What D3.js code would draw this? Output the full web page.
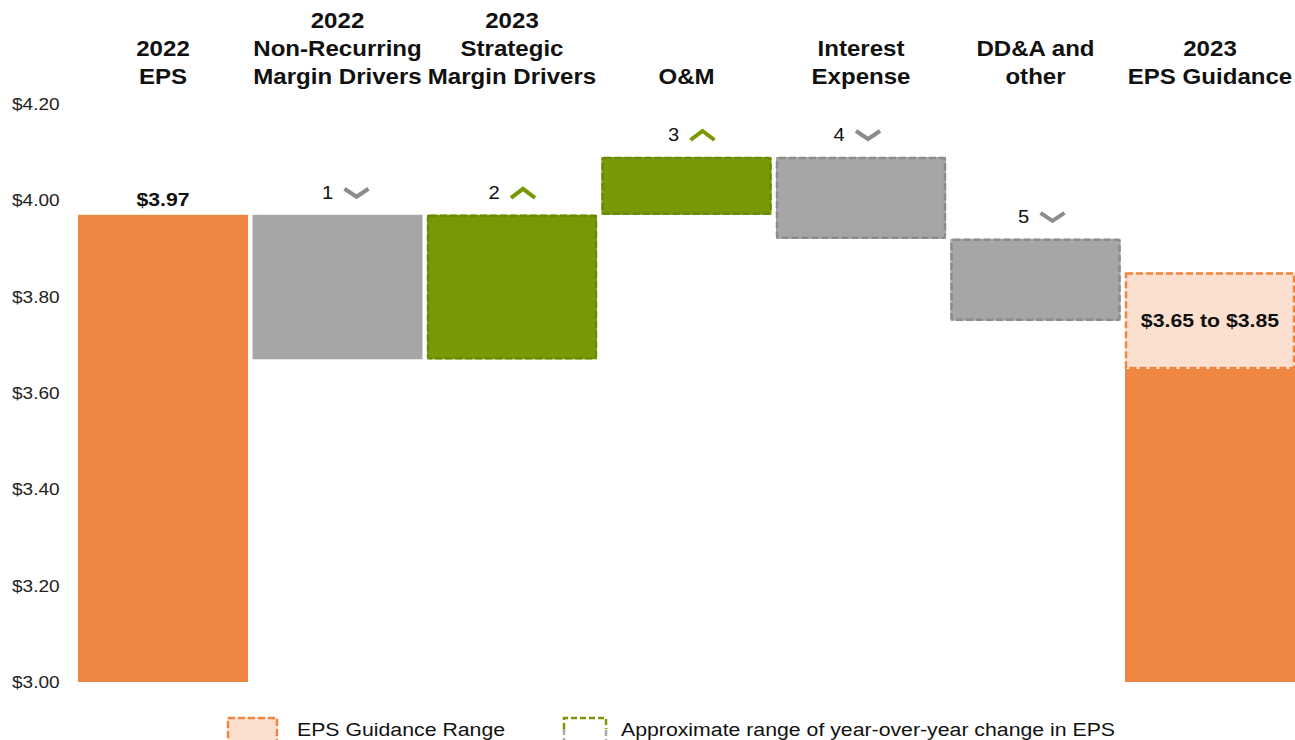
<!DOCTYPE html>
<html><head><meta charset="utf-8">
<script src="https://cdn.jsdelivr.net/npm/d3@7"></script>
<style>body{margin:0;background:#fff;font-family:"Liberation Sans",Arial,sans-serif;}</style>
</head><body><svg id="c" width="1295" height="740"></svg>
<script>
const categories = ["2022 EPS","2022 Non-Recurring Margin Drivers","2023 Strategic Margin Drivers","O&M","Interest Expense","DD&A and other","2023 EPS Guidance"];
const headerLines = [["2022","EPS"],["2022","Non-Recurring","Margin Drivers"],["2023","Strategic","Margin Drivers"],["O&M"],["Interest","Expense"],["DD&A and","other"],["2023","EPS Guidance"]];
const barStart = [3.00, 3.97, 3.67, 3.97, 4.09, 3.92, 3.00];
const barEnd   = [3.97, 3.67, 3.97, 4.09, 3.92, 3.75, 3.65];
const barType  = ["orange","gray","green","green","gray","gray","orange"];
const dashed   = [false,false,true,true,true,true,false];
const annotations = [null,"1","2","3","4","5",null];
const direction = [null,"down","up","up","down","down",null];
const guidanceRange = [3.65, 3.85];
const yTicks = [3.00,3.20,3.40,3.60,3.80,4.00,4.20];
const legendLabels = ["EPS Guidance Range","Approximate range of year-over-year change in EPS"];

// layout constants
const colors = {orange:"#ef8641", gray:"#a6a6a6", green:"#789904", light:"#fbe0cf"};
const borders = {gray:"#8c8c8c", green:"#6a8a00", orange:"#ef8641"};
const SX = 1.12;
const annotShift = [0,0,-8,-3,-12,-2,0];

const svg = d3.select("#c");
const y = d3.scaleLinear().domain([3.0,4.2]).range([682,104]);
const x = d3.scaleBand().domain(categories).range([75.75,1297.25]).paddingInner(4.5/174.5).paddingOuter(4.5/174.5/2);

function txt(px, py, s, fs, opts={}){
  const t = svg.append("text").attr("transform",`translate(${px},${py}) scale(${SX},1)`)
    .attr("font-size",fs).attr("fill",opts.fill||"#111")
    .attr("text-anchor",opts.anchor||"start");
  if(opts.bold) t.attr("font-weight","bold");
  if(opts.dy) t.attr("dy",opts.dy);
  t.text(s);
  return t;
}

// y axis labels
yTicks.forEach(d=>txt(12, y(d), "$"+d.toFixed(2), 17, {dy:"0.35em", fill:"#222"}));

// headers
categories.forEach((c,i)=>{
  const lines = headerLines[i];
  const cx = x(c)+x.bandwidth()/2;
  lines.forEach((l,j)=>txt(cx, 84-(lines.length-1-j)*28, l, 21.5, {anchor:"middle", bold:true}));
});

// bars
categories.forEach((c,i)=>{
  const top = Math.max(barStart[i],barEnd[i]), bot = Math.min(barStart[i],barEnd[i]);
  const bx = x(c), bw = x.bandwidth();
  svg.append("rect").attr("x",bx).attr("y",y(top)).attr("width",bw).attr("height",y(bot)-y(top))
    .attr("fill",colors[barType[i]]);
  if(dashed[i]){
    svg.append("rect").attr("x",bx+1).attr("y",y(top)+1).attr("width",bw-2).attr("height",y(bot)-y(top)-2)
      .attr("fill","none").attr("stroke",borders[barType[i]]).attr("stroke-width",2.5)
      .attr("stroke-dasharray","7,3").attr("rx",2);
  }
  if(annotations[i]){
    const cx = bx+bw/2+annotShift[i], ay = y(top)-22;
    txt(cx-10, ay, annotations[i], 18, {anchor:"middle", dy:"0.35em"});
    const col = direction[i]==="up" ? "#789904" : "#8c8c8c";
    const p = direction[i]==="up"
      ? `M${cx+7},${ay+5} L${cx+19},${ay-4} L${cx+31},${ay+5}`
      : `M${cx+7},${ay-4} L${cx+19},${ay+4} L${cx+31},${ay-4}`;
    svg.append("path").attr("d",p).attr("fill","none").attr("stroke",col).attr("stroke-width",4);
  }
});

// first bar value label
txt(x(categories[0])+x.bandwidth()/2, y(barEnd[0])-9, "$"+barEnd[0].toFixed(2), 19, {anchor:"middle", bold:true});

// guidance range
{
  const c = categories[6], bx = x(c), bw = x.bandwidth();
  svg.append("rect").attr("x",bx).attr("y",y(guidanceRange[1])).attr("width",bw)
    .attr("height",y(guidanceRange[0])-y(guidanceRange[1])).attr("fill",colors.light);
  svg.append("rect").attr("x",bx+1).attr("y",y(guidanceRange[1])+1).attr("width",bw-2)
    .attr("height",y(guidanceRange[0])-y(guidanceRange[1])-2).attr("fill","none")
    .attr("stroke",borders.orange).attr("stroke-width",2.5).attr("stroke-dasharray","7,3");
  txt(bx+bw/2, y((guidanceRange[0]+guidanceRange[1])/2), `$${guidanceRange[0].toFixed(2)} to $${guidanceRange[1].toFixed(2)}`, 19, {anchor:"middle", bold:true, dy:"0.35em"});
}

// legend
{
  const ly = 717, lh = 26;
  svg.append("rect").attr("x",227).attr("y",ly).attr("width",51).attr("height",lh).attr("fill",colors.light);
  svg.append("rect").attr("x",228).attr("y",ly+1).attr("width",49).attr("height",lh).attr("fill","none")
    .attr("stroke",borders.orange).attr("stroke-width",2.5).attr("stroke-dasharray","7,3");
  txt(297, 729, legendLabels[0], 19, {dy:"0.35em"});
  const x0=564, x1=606, mid=729;
  svg.append("path").attr("d",`M${x0},${mid} L${x0},${ly+1} L${x1},${ly+1} L${x1},${mid}`)
    .attr("fill","none").attr("stroke","#789904").attr("stroke-width",2.5).attr("stroke-dasharray","6,3");
  svg.append("path").attr("d",`M${x0},${mid} L${x0},${ly+lh} L${x1},${ly+lh} L${x1},${mid}`)
    .attr("fill","none").attr("stroke","#a6a6a6").attr("stroke-width",2.5).attr("stroke-dasharray","6,3");
  txt(621, 729, legendLabels[1], 19, {dy:"0.35em"});
}
</script></body></html>
